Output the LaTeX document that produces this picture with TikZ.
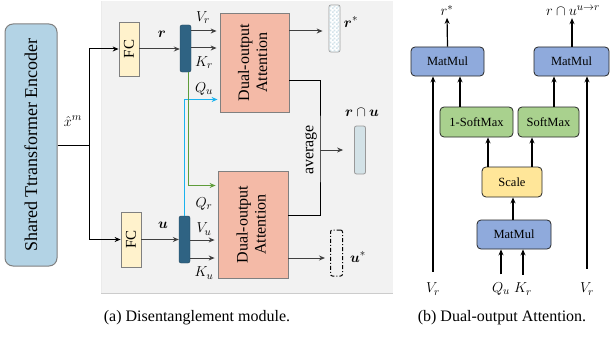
\documentclass[tikz,border=0pt]{standalone}
\usepackage{amsmath}
\usepackage{bm}
\usepackage{fontspec}
\setmainfont{Liberation Serif}
\usetikzlibrary{arrows.meta,patterns}
\definecolor{panelbg}{HTML}{F2F2F2}
\definecolor{encblue}{HTML}{B3D3E5}
\definecolor{fcyel}{HTML}{FFF2CC}
\definecolor{bardark}{HTML}{2F6383}
\definecolor{doasal}{HTML}{F4BAA7}
\definecolor{rubox}{HTML}{D3E2E7}
\definecolor{mmblue}{HTML}{8FAADC}
\definecolor{smgreen}{HTML}{A9D18E}
\definecolor{scyel}{HTML}{FFE699}
\definecolor{cyanl}{HTML}{1AB2EE}
\definecolor{greenl}{HTML}{5E9C3A}
\definecolor{arrgray}{HTML}{404040}
\definecolor{checkc}{HTML}{D3E3EA}
\pgfdeclarepatternformonly{finecheck}{\pgfpointorigin}{\pgfpoint{4pt}{4pt}}{\pgfpoint{4pt}{4pt}}%
{\pgfpathrectangle{\pgfpointorigin}{\pgfpoint{2pt}{2pt}}%
 \pgfpathrectangle{\pgfpoint{2pt}{2pt}}{\pgfpoint{2pt}{2pt}}\pgfusepath{fill}}
\begin{document}
\begin{tikzpicture}[x=1pt,y=-1pt,
  lbl/.style={font=\fontsize{15}{17}\selectfont, inner sep=0pt},
  garr/.style={draw=arrgray, line width=1pt, -{Stealth[length=6pt,width=5pt]}},
  gline/.style={draw=black, line width=1pt},
  barr/.style={draw=black, line width=1.2pt, -{Stealth[length=6pt,width=5pt]}},
  opbox/.style={draw=black!85, rounded corners=4pt, line width=0.8pt, inner sep=0pt,
     font=\fontsize{12.5}{14}\selectfont},
  fcbox/.style={draw=gray, fill=fcyel, line width=0.8pt, inner sep=0pt,
     minimum width=20pt, font=\fontsize{15}{17}\selectfont},
  barbox/.style={draw=bardark!70!black, fill=bardark, rounded corners=2pt, inner sep=0pt,
     minimum width=11pt, minimum height=47pt},
  doabox/.style={draw=gray, fill=doasal, line width=0.8pt, inner sep=0pt,
     font=\fontsize{16}{18}\selectfont},
  vecbox/.style={rounded corners=2pt, inner sep=0pt, line width=0.8pt}
]
\useasboundingbox (0,0) rectangle (610,337);
% panel background
\fill[panelbg] (101,1) rectangle (393,293);
\draw[black!20, line width=0.8pt] (101,293.5) -- (393,293.5);
\draw[black!8, line width=0.6pt] (101,1) -- (101,293);

% encoder
\node[draw=gray, fill=encblue, rounded corners=8pt, line width=1pt, inner sep=0pt,
  minimum width=52pt, minimum height=242pt, font=\fontsize{18}{20}\selectfont]
  (enc) at (31,145) {\rotatebox{90}{Shared Ttransformer Encoder}};
\node[lbl] (xm) at (73,121) {$\hat{x}^m$};
\coordinate (split) at (89,145);

% FC boxes
\node[fcbox, minimum height=54pt] (fc1) at (129,49) {\rotatebox{90}{FC}};
\node[fcbox, minimum height=55pt] (fc2) at (131,239.5) {\rotatebox{90}{FC}};

% bars
\node[barbox] (bar1) at (185.5,48.5) {};
\node[barbox] (bar2) at (184.5,239.5) {};

% dual-output attention
\node[doabox, minimum width=69pt, minimum height=99pt] (doa1) at (254.5,62.5)
  {\rotatebox{90}{\begin{tabular}{@{}c@{}}Dual-output\\Attention\end{tabular}}};
\node[doabox, minimum width=70pt, minimum height=107pt] (doa2) at (253,224.5)
  {\rotatebox{90}{\begin{tabular}{@{}c@{}}Dual-output\\Attention\end{tabular}}};

% output vectors
\node[vecbox, draw=gray!80, fill=white, minimum width=11pt, minimum height=47pt,
  postaction={pattern=finecheck, pattern color=checkc}] (rstar) at (334.5,28.5) {};
\node[vecbox, draw=black, line width=1pt, dash pattern=on 4pt off 2pt on 1pt off 2pt,
  minimum width=12pt, minimum height=46pt] (ustar) at (336.5,253) {};
\node[vecbox, draw=gray!80, fill=rubox, minimum width=11pt, minimum height=48pt] (ru) at (360,150) {};

% labels left
\node[lbl] at (351,22) {$\bm{r}^{*}$};
\node[lbl] at (358,257) {$\bm{u}^{*}$};
\node[lbl] at (362,112) {$\bm{r}\cap\bm{u}$};
\node[lbl] at (162,34) {$\bm{r}$};
\node[lbl] at (163,225) {$\bm{u}$};
\node[lbl] at (203,18) {$V_r$};
\node[lbl] at (204,63) {$K_r$};
\node[lbl] at (204,89) {$Q_u$};
\node[lbl] at (204,204) {$Q_r$};
\node[lbl] at (204,229) {$V_u$};
\node[lbl] at (204,273) {$K_u$};
\node[font=\fontsize{16}{18}\selectfont, inner sep=0pt, rotate=90] (avgl) at (311,150) {average};

% y levels
\coordinate (yVr) at (0,31);
\coordinate (yKr) at (0,48);
\coordinate (yQu) at (0,99.5);
\coordinate (yQr) at (0,185.5);
\coordinate (yVu) at (0,240);
\coordinate (yKu) at (0,258);
\coordinate (yA1) at (0,80);
\coordinate (yA2) at (0,215);
\coordinate (avg) at (320,150);

% connectors left
\draw[gline] (enc.east) -- (split);
\draw[garr, draw=black] (split) |- (fc1.west);
\draw[garr, draw=black] (split) |- (fc2.west);
\draw[garr] (fc1.east) -- (bar1.west |- fc1.east);
\draw[garr] (fc2.east) -- (bar2.west |- fc2.east);
\draw[garr, shorten >=3pt] (bar1.east |- yVr) -- (doa1.west |- yVr);
\draw[garr, shorten >=3pt] (bar1.east |- yKr) -- (doa1.west |- yKr);
\draw[garr, shorten >=3pt] (bar2.east |- yVu) -- (doa2.west |- yVu);
\draw[garr, shorten >=3pt] (bar2.east |- yKu) -- (doa2.west |- yKu);
\draw[garr, draw=cyanl, line width=1pt, shorten >=2pt] (bar2.north) |- (doa1.west |- yQu);
\draw[garr, draw=greenl, line width=1pt, shorten >=2pt] ([xshift=2.5pt]bar1.south) |- (doa2.west |- yQr);
\draw[garr, shorten >=6pt] (doa1.east |- yVr) -- (rstar.west |- yVr);
\draw[garr, shorten >=5pt] (doa2.east |- yKu) -- (ustar.west |- yKu);
\draw[gline] (doa1.east |- yA1) -| (avg) |- (doa2.east |- yA2);
\draw[garr, shorten >=11pt] (avg) -- (ru.west);

% right panel
\node[opbox, fill=mmblue, minimum width=73pt, minimum height=29pt] (mm1) at (447.5,61.5) {MatMul};
\node[opbox, fill=mmblue, minimum width=75pt, minimum height=29pt] (mm2) at (571.5,61.5) {MatMul};
\node[opbox, fill=smgreen, minimum width=73pt, minimum height=30pt] (sm1) at (476.5,122) {1-SoftMax};
\node[opbox, fill=smgreen, minimum width=61pt, minimum height=30pt] (sm2) at (548.5,122) {SoftMax};
\node[opbox, fill=scyel, minimum width=60pt, minimum height=30pt] (sc) at (512,182) {Scale};
\node[opbox, fill=mmblue, minimum width=74pt, minimum height=29pt] (mm3) at (514,234.5) {MatMul};

\node[lbl] (outl) at (447,10.5) {$r^{*}$};
\node[lbl, anchor=west] (outr) at (546,11) {$r\cap u^{u\to r}$};
\node[lbl] (vr1) at (433,289) {$V_r$};
\node[lbl] (qu) at (501,289) {$Q_u$};
\node[lbl] (kr) at (523,289) {$K_r$};
\node[lbl] (vr2) at (587,289) {$V_r$};

\draw[barr, shorten >=2pt] (mm1.north) -- (outl.south);
\draw[barr, shorten >=2pt] (mm2.north -| 572,0) -- (outr.south -| 572,0);
\draw[barr, shorten <=11pt] (vr1.north) -- (mm1.south -| vr1.north);
\draw[barr, shorten <=14pt] (vr2.north) -- (mm2.south -| vr2.north);
\draw[barr] (sm1.north -| 460,0) -- (mm1.south -| 460,0);
\draw[barr] (sm2.north -| 554,0) -- (mm2.south -| 554,0);
\draw[barr] (sc.north -| 488,0) -- (sm1.south -| 488,0);
\draw[barr] (sc.north -| 532,0) -- (sm2.south -| 532,0);
\draw[barr] (mm3.north -| 513,0) -- (sc.south -| 513,0);
\draw[barr, shorten <=8pt] (qu.north) -- (mm3.south -| qu.north);
\draw[barr, shorten <=8pt] (kr.north) -- (mm3.south -| kr.north);

% captions
\node[font=\fontsize{16}{18}\selectfont, inner sep=0pt] (capa) at (197,318) {(a) Disentanglement module.};
\node[font=\fontsize{16}{18}\selectfont, inner sep=0pt] (capb) at (502,318) {(b) Dual-output Attention.};
\end{tikzpicture}
\end{document}
